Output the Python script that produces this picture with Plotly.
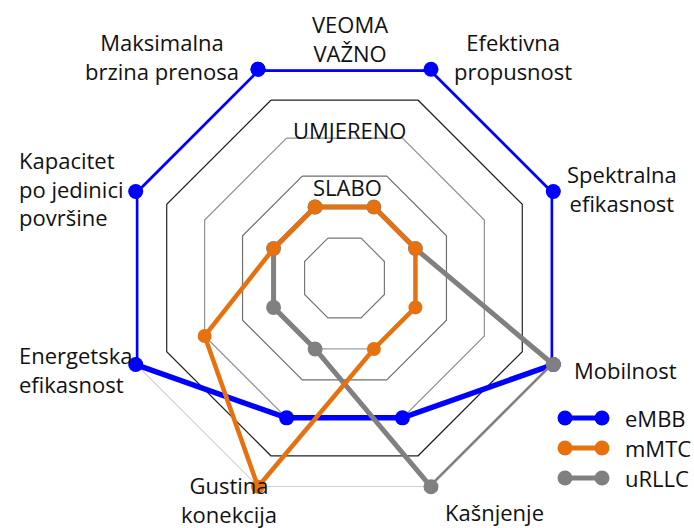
import plotly.graph_objects as go

# Axes of the radar (clockwise, starting top-left)
categories = [
    "Maksimalna brzina prenosa",
    "Efektivna propusnost",
    "Spektralna efikasnost",
    "Mobilnost",
    "Kašnjenje",
    "Gustina konekcija",
    "Energetska efikasnost",
    "Kapacitet po jedinici površine",
]
category_labels = [
    "Maksimalna<br>brzina prenosa",
    "Efektivna<br>propusnost",
    "Spektralna<br>efikasnost",
    "Mobilnost",
    "Kašnjenje",
    "Gustina<br>konekcija",
    "Energetska<br>efikasnost",
    "Kapacitet<br>po jedinici<br>površine",
]

# Importance scale: 1 = SLABO, 2 = UMJERENO, 3 = VEOMA VAŽNO
level_values = [1, 2, 3]
level_names = ["SLABO", "UMJERENO", "VEOMA<br>VAŽNO"]

series_names = ["eMBB", "mMTC", "uRLLC"]
embb = [3, 3, 3, 3, 2, 2, 3, 3]
mmtc = [1, 1, 1, 1, 1, 3, 2, 1]
urllc = [1, 1, 1, 3, 3, 1, 1, 1]

# Octagonal grid rings
grid_levels = [0.55, 1, 1.45, 2, 2.55, 3]
grid_colors = ["#777777", "#a0a0a0", "#6e6e6e", "#909090", "#222222", "#aaaaaa"]

W, H = 694, 528
FONT = "Open Sans"
TXT = "#111111"


def closed(vals):
    return list(vals) + [vals[0]]


theta_closed = closed(categories)

fig = go.Figure()

for lvl, col in zip(grid_levels, grid_colors):
    fig.add_trace(go.Scatterpolar(
        r=[lvl] * (len(categories) + 1), theta=theta_closed,
        mode="lines", line=dict(color=col, width=1.2),
        hoverinfo="skip", showlegend=False,
    ))

styles = {
    "eMBB": dict(color="#0000FF", width=5.5, size=15),
    "uRLLC": dict(color="#808080", width=5, size=15),
    "mMTC": dict(color="#E8710F", width=4.5, size=14),
}
values = {"eMBB": embb, "mMTC": mmtc, "uRLLC": urllc}

# drawing order: blue at the bottom, orange on top
for name in ["eMBB", "uRLLC", "mMTC"]:
    st = styles[name]
    fig.add_trace(go.Scatterpolar(
        r=closed(values[name]), theta=theta_closed, name=name,
        mode="lines+markers",
        line=dict(color=st["color"], width=st["width"]),
        marker=dict(color=st["color"], size=st["size"]),
        showlegend=False,
    ))

# polar area: centre (344.5, 278) px, outer vertex radius 226 px
cx, cy, R = 344.5, 278, 226
fig.update_layout(
    width=W, height=H,
    margin=dict(l=0, r=0, t=0, b=0),
    paper_bgcolor="white",
    polar=dict(
        domain=dict(x=[(cx - R) / W, (cx + R) / W],
                    y=[1 - (cy + R) / H, 1 - (cy - R) / H]),
        gridshape="linear",
        bgcolor="white",
        radialaxis=dict(visible=False, range=[-0.029, 3]),
        angularaxis=dict(rotation=112.5, direction="clockwise",
                         showgrid=False, showline=False,
                         showticklabels=False, ticks="",
                         categoryorder="array", categoryarray=categories),
    ),
    showlegend=False,
)


def px(x, y):
    return x / W, 1 - y / H


annotations = []
# category labels: (x, y, xanchor, align)
label_pos = [
    (162, 56, "center", "center"),
    (513, 56, "center", "center"),
    (622, 189, "center", "center"),
    (572, 370, "left", "left"),
    (443, 512, "left", "left"),
    (229, 499, "center", "center"),
    (17, 369, "left", "left"),
    (17, 189, "left", "left"),
]
for text, (x, y, xa, al) in zip(category_labels, label_pos):
    ax, ay = px(x, y)
    annotations.append(dict(x=ax, y=ay, xref="paper", yref="paper", text=text,
                            showarrow=False, xanchor=xa, yanchor="middle",
                            align=al, font=dict(family=FONT, size=22, color=TXT)))

# level labels above the top edge of each ring
level_pos = [(347, 187), (349, 130), (350, 38)]
for text, (x, y) in zip(level_names, level_pos):
    ax, ay = px(x, y)
    annotations.append(dict(x=ax, y=ay, xref="paper", yref="paper", text=text,
                            showarrow=False, xanchor="center", yanchor="middle",
                            align="center", font=dict(family=FONT, size=22, color=TXT)))

# legend: line with a dot at each end
shapes = []
legend_rows = [418, 448, 478]
for name, y in zip(series_names, legend_rows):
    st = styles[name]
    x0, x1 = 565, 602
    shapes.append(dict(type="line", xref="paper", yref="paper",
                       x0=x0 / W, x1=x1 / W, y0=1 - y / H, y1=1 - y / H,
                       line=dict(color=st["color"], width=5)))
    for xc in (x0, x1):
        shapes.append(dict(type="circle", xref="paper", yref="paper",
                           xsizemode="pixel", ysizemode="pixel",
                           xanchor=xc / W, yanchor=1 - y / H,
                           x0=-7.5, x1=7.5, y0=-7.5, y1=7.5,
                           fillcolor=st["color"], line=dict(width=0)))
    ax, ay = px(623, y)
    annotations.append(dict(x=ax, y=ay, xref="paper", yref="paper", text=name,
                            showarrow=False, xanchor="left", yanchor="middle",
                            font=dict(family=FONT, size=22, color=TXT)))

fig.update_layout(annotations=annotations, shapes=shapes)

fig.write_html("out.html")
